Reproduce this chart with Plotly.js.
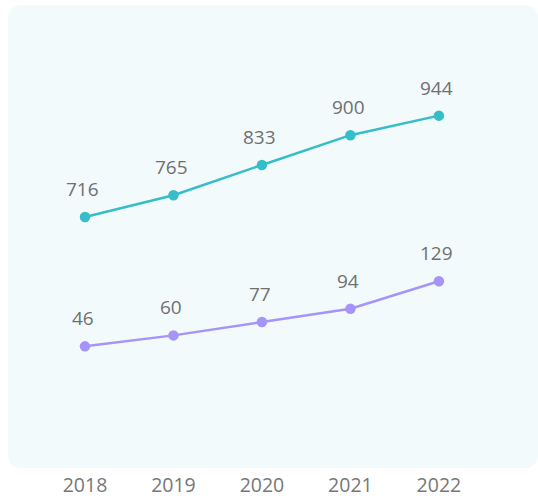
<!DOCTYPE html>
<html>
<head>
<meta charset="utf-8">
<script src="https://cdn.plot.ly/plotly-3.0.1.min.js"></script>
<style>
  html, body { margin: 0; padding: 0; background: #ffffff; }
  #chart { width: 538px; height: 496px; }
</style>
</head>
<body>
<div id="chart"></div>
<script>
const years = [2018, 2019, 2020, 2021, 2022];
const tickLabels = ["2018", "2019", "2020", "2021", "2022"];
const seriesA = [716, 765, 833, 900, 944];
const seriesB = [46, 60, 77, 94, 129];

const teal = "#35bdc8";
const purple = "#a594f9";
const labelColor = "#707070";

const traces = [
  {
    x: years, y: seriesA, yaxis: "y",
    type: "scatter", mode: "lines+markers",
    line: { color: teal, width: 2.5 },
    marker: { color: teal, size: 10.5 },
    hoverinfo: "skip", cliponaxis: false
  },
  {
    x: years, y: seriesB, yaxis: "y2",
    type: "scatter", mode: "lines+markers",
    line: { color: purple, width: 2.5 },
    marker: { color: purple, size: 10.5 },
    hoverinfo: "skip", cliponaxis: false
  }
];

function labels(vals, yref) {
  return vals.map((v, i) => ({
    x: years[i], y: v, xref: "x", yref: yref,
    text: String(v), showarrow: false,
    yanchor: "middle", xanchor: "center", yshift: 28, xshift: -2,
    font: { family: "Open Sans", size: 19, color: labelColor }
  }));
}

const rx = 14 / 530, ry = 14 / 463;
const bgPath =
  `M ${rx},0 L ${1 - rx},0 Q 1,0 1,${ry} L 1,${1 - ry} Q 1,1 ${1 - rx},1 ` +
  `L ${rx},1 Q 0,1 0,${1 - ry} L 0,${ry} Q 0,0 ${rx},0 Z`;

const layout = {
  width: 538, height: 496,
  margin: { l: 8, r: 0, t: 5, b: 28 },
  paper_bgcolor: "#ffffff",
  plot_bgcolor: "rgba(0,0,0,0)",
  showlegend: false,
  font: { family: "Open Sans", color: labelColor },
  xaxis: {
    range: [2017.13, 2023.12],
    tickvals: years, ticktext: tickLabels,
    showgrid: false, zeroline: false, showline: false, ticks: "",
    ticklabelstandoff: 3,
    tickfont: { family: "Open Sans", size: 19.5, color: "#777777" },
    fixedrange: true
  },
  yaxis: {
    range: [151, 1193], visible: false, showgrid: false, zeroline: false, fixedrange: true
  },
  yaxis2: {
    range: [-109, 481], overlaying: "y", visible: false, showgrid: false, zeroline: false, fixedrange: true
  },
  annotations: labels(seriesA, "y").concat(labels(seriesB, "y2")),
  shapes: [{
    type: "path", xref: "paper", yref: "paper", layer: "below",
    path: bgPath, fillcolor: "#f3fafc", line: { width: 0 }
  }]
};

Plotly.newPlot("chart", traces, layout, { displayModeBar: false, staticPlot: true });
</script>
</body>
</html>
